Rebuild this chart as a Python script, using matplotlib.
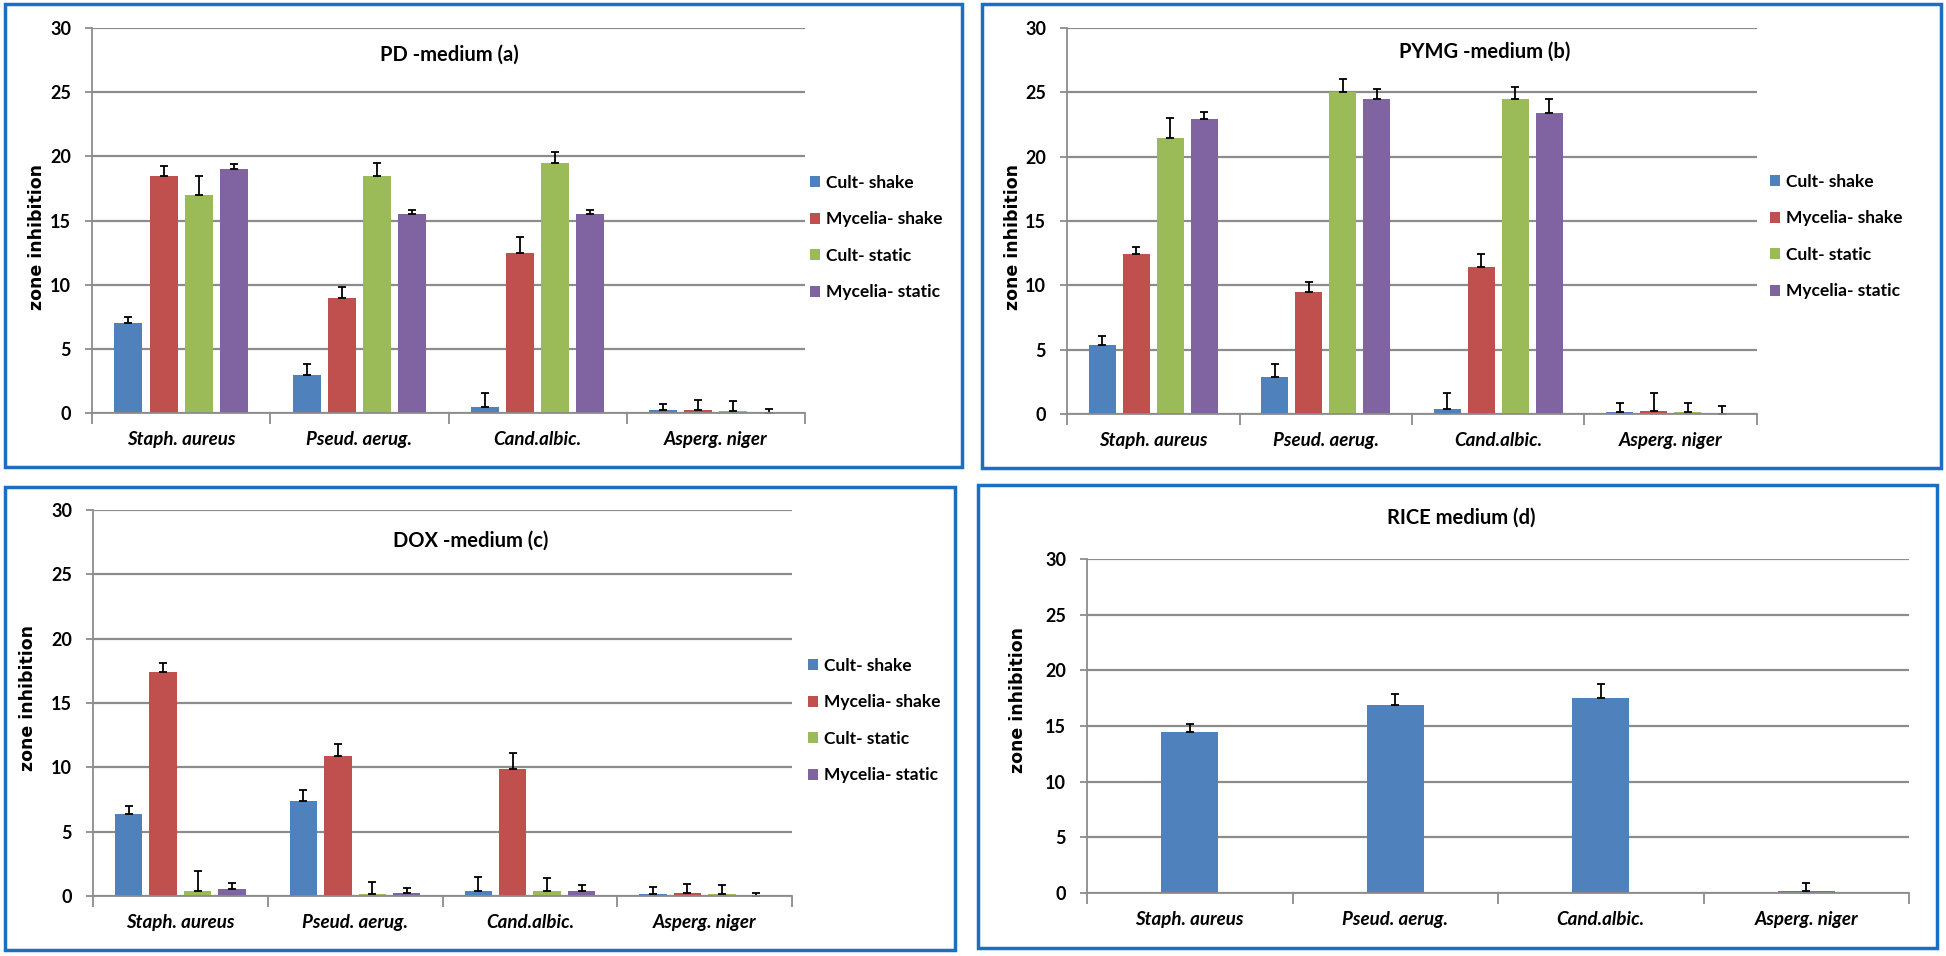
import matplotlib
matplotlib.use("Agg")
import matplotlib.pyplot as plt
from matplotlib.patches import Rectangle
import numpy as np

plt.rcParams['font.family'] = ['Lato', 'DejaVu Sans']

W, H = 1946, 956

organisms = ["Staph. aureus", "Pseud. aerug.", "Cand.albic.", "Asperg. niger"]
treatments = ["Cult- shake", "Mycelia- shake", "Cult- static", "Mycelia- static"]
colors = ["#4F81BD", "#C0504D", "#9BBB59", "#8064A2"]

# rows = treatments, columns = organisms
pd_mean = [[7.0, 3.0, 0.5, 0.2],
           [18.5, 9.0, 12.5, 0.2],
           [17.0, 18.5, 19.5, 0.15],
           [19.0, 15.5, 15.5, 0.0]]
pd_err = [[0.45, 0.85, 1.05, 0.5],
          [0.75, 0.85, 1.2, 0.85],
          [1.45, 0.95, 0.85, 0.75],
          [0.4, 0.3, 0.3, 0.28]]

pymg_mean = [[5.4, 2.9, 0.4, 0.15],
             [12.4, 9.45, 11.4, 0.25],
             [21.45, 25.0, 24.45, 0.15],
             [22.95, 24.45, 23.4, 0.0]]
pymg_err = [[0.7, 1.0, 1.2, 0.7],
            [0.6, 0.8, 1.05, 1.35],
            [1.55, 1.0, 0.95, 0.7],
            [0.55, 0.8, 1.1, 0.62]]

dox_mean = [[6.4, 7.4, 0.4, 0.15],
            [17.4, 10.9, 9.9, 0.25],
            [0.4, 0.15, 0.4, 0.15],
            [0.55, 0.25, 0.4, 0.0]]
dox_err = [[0.57, 0.85, 1.1, 0.57],
           [0.72, 0.93, 1.22, 0.72],
           [1.58, 0.95, 1.0, 0.7],
           [0.44, 0.36, 0.47, 0.2]]

rice_mean = [14.5, 16.9, 17.5, 0.18]
rice_err = [0.65, 0.98, 1.28, 0.68]

grid_c = '#8c8c8c'
border_c = '#1a6fc4'


def axes_px(fig, x0, x1, y0, y1):
    return fig.add_axes([x0 / W, 1 - y1 / H, (x1 - x0) / W, (y1 - y0) / H])


def style(ax):
    ax.set_xlim(0, 4)
    ax.set_ylim(0, 30)
    ax.set_yticks(range(0, 31, 5))
    ax.yaxis.grid(True, color=grid_c, lw=1.6)
    ax.set_axisbelow(True)
    for s in ['top', 'right']:
        ax.spines[s].set_visible(False)
    for s in ['left', 'bottom']:
        ax.spines[s].set_color(grid_c)
        ax.spines[s].set_linewidth(1.3)
    ax.set_xticks(range(5))
    ax.set_xticklabels([])
    ax.set_xticks(np.arange(4) + 0.5, minor=True)
    ax.set_xticklabels(organisms, minor=True, style='italic', fontsize=13.5, weight='bold')
    ax.tick_params(axis='x', which='major', length=8, color=grid_c, width=1.3)
    ax.tick_params(axis='x', which='minor', length=0, pad=13)
    ax.tick_params(axis='y', length=5, color=grid_c, width=1.3, pad=10, labelsize=13)
    for t in ax.get_yticklabels():
        t.set_fontweight('bold')


ekw = dict(ecolor='black', elinewidth=1.3, capsize=3, capthick=1.3)


def grouped(ax, means, errs):
    x = np.arange(4) + 0.5
    for i in range(4):
        ax.bar(x + (i - 1.5) * 0.197, means[i], width=0.157, color=colors[i],
               yerr=[np.zeros(4), errs[i]], error_kw=ekw, label=treatments[i])


def legend_at(fig, ax, x, y):
    ax.legend(loc='upper left', bbox_to_anchor=(x / W, 1 - y / H),
              bbox_transform=fig.transFigure, frameon=False,
              handlelength=0.6, handleheight=0.6, handletextpad=0.35,
              labelspacing=1.18, borderpad=0, borderaxespad=0,
              prop=dict(size=12.5, weight='bold'))


def border(fig, x0, x1, y0, y1):
    fig.add_artist(Rectangle((x0 / W, 1 - y1 / H), (x1 - x0) / W, (y1 - y0) / H,
                             transform=fig.transFigure, fill=False, ec=border_c, lw=2.5))


def ylabel(fig, x, y):
    fig.text(x / W, 1 - y / H, "zone inhibition", rotation=90, ha='center', va='center',
             family='DejaVu Sans', weight='bold', fontsize=12.5)


fig = plt.figure(figsize=(W / 100, H / 100), dpi=100)

# (a)
ax = axes_px(fig, 92, 805, 28, 413)
grouped(ax, pd_mean, pd_err)
style(ax)
legend_at(fig, ax, 810, 175)
fig.text(449 / W, 1 - 55 / H, "PD -medium (a)", ha='center', va='center', fontsize=14.5, weight='bold')
ylabel(fig, 37, 237)
border(fig, 5, 962, 4, 467)

# (b)
ax = axes_px(fig, 1067, 1757, 28, 414)
grouped(ax, pymg_mean, pymg_err)
style(ax)
legend_at(fig, ax, 1770, 174)
fig.text(1485 / W, 1 - 52 / H, "PYMG -medium (b)", ha='center', va='center', fontsize=14.5, weight='bold')
ylabel(fig, 1013, 237)
border(fig, 982, 1941, 4, 468)

# (c)
ax = axes_px(fig, 93, 792, 510, 896)
grouped(ax, dox_mean, dox_err)
style(ax)
legend_at(fig, ax, 808, 658)
fig.text(471 / W, 1 - 541 / H, "DOX -medium (c)", ha='center', va='center', fontsize=14.5, weight='bold')
ylabel(fig, 28, 698)
border(fig, 5, 955, 487, 950)

# (d)
ax = axes_px(fig, 1087, 1909, 559, 893)
ax.bar(np.arange(4) + 0.5, rice_mean, width=0.277, color=colors[0],
       yerr=[np.zeros(4), rice_err], error_kw=ekw)
style(ax)
fig.text(1461 / W, 1 - 518 / H, "RICE medium (d)", ha='center', va='center', fontsize=14.5, weight='bold')
ylabel(fig, 1018, 700)
border(fig, 978, 1937, 485, 948)

fig.savefig("out.png", dpi=100)
